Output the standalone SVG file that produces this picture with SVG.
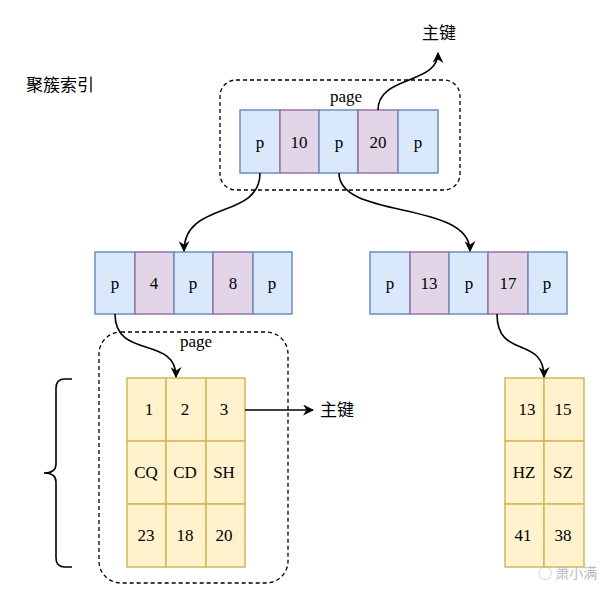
<svg xmlns="http://www.w3.org/2000/svg" width="600" height="600" viewBox="0 0 600 600">
<style>
.b{fill:#dae8fc;stroke:#6c8ebf;stroke-width:1.5}
.m{fill:#e1d5e7;stroke:#9673a6;stroke-width:1.5}
.y{fill:#fff2cc;stroke:#d6b656;stroke-width:1.5}
.d{fill:none;stroke:#000;stroke-width:1.3;stroke-dasharray:4 3}
.t{font-family:"Liberation Serif",serif;font-size:17px;text-anchor:middle;dominant-baseline:central;fill:#000}
.c{font-family:"Liberation Sans","Noto Sans CJK SC",sans-serif;font-size:17px;fill:#000}
.e{fill:none;stroke:#000;stroke-width:1.6}
</style>
<defs><marker id="a" viewBox="0 0 10 10" refX="9" refY="5" markerWidth="11" markerHeight="11" orient="auto" markerUnits="userSpaceOnUse"><path d="M0,0L10,5L0,10L3,5Z" fill="#000"/></marker></defs>
<text class="c" x="26" y="91">聚簇索引</text>
<g id="root">
<rect class="d" x="220" y="80" width="240" height="110" rx="16"/>
<text class="t" x="346" y="96">page</text>
<rect class="b" x="240" y="110" width="40" height="63"/><text class="t" x="260" y="142">p</text>
<rect class="m" x="280" y="110" width="39" height="63"/><text class="t" x="299" y="142">10</text>
<rect class="b" x="319" y="110" width="39" height="63"/><text class="t" x="339" y="142">p</text>
<rect class="m" x="358" y="110" width="40" height="63"/><text class="t" x="378" y="142">20</text>
<rect class="b" x="398" y="110" width="40" height="63"/><text class="t" x="418" y="142">p</text>
<text class="c" x="422" y="39">主键</text>
</g>
<g id="mid-left">
<rect class="b" x="95" y="252" width="40" height="62"/><text class="t" x="115" y="283">p</text>
<rect class="m" x="135" y="252" width="39" height="62"/><text class="t" x="154" y="283">4</text>
<rect class="b" x="174" y="252" width="39" height="62"/><text class="t" x="193" y="283">p</text>
<rect class="m" x="213" y="252" width="40" height="62"/><text class="t" x="233" y="283">8</text>
<rect class="b" x="253" y="252" width="39" height="62"/><text class="t" x="272" y="283">p</text>
</g>
<g id="mid-right">
<rect class="b" x="370" y="252" width="40" height="62"/><text class="t" x="390" y="283">p</text>
<rect class="m" x="410" y="252" width="39" height="62"/><text class="t" x="429" y="283">13</text>
<rect class="b" x="449" y="252" width="39" height="62"/><text class="t" x="469" y="283">p</text>
<rect class="m" x="488" y="252" width="40" height="62"/><text class="t" x="508" y="283">17</text>
<rect class="b" x="528" y="252" width="39" height="62"/><text class="t" x="547" y="283">p</text>
</g>
<g id="leaf-left">
<rect class="d" x="99" y="332" width="189" height="251" rx="22"/>
<text class="t" x="196" y="341">page</text>
<rect class="y" x="127" y="378" width="39" height="63"/><text class="t" x="149" y="409">1</text>
<rect class="y" x="166" y="378" width="40" height="63"/><text class="t" x="185" y="409">2</text>
<rect class="y" x="206" y="378" width="39" height="63"/><text class="t" x="224" y="409">3</text>
<rect class="y" x="127" y="441" width="39" height="63"/><text class="t" x="146" y="472">CQ</text>
<rect class="y" x="166" y="441" width="40" height="63"/><text class="t" x="185" y="472">CD</text>
<rect class="y" x="206" y="441" width="39" height="63"/><text class="t" x="224" y="472">SH</text>
<rect class="y" x="127" y="504" width="39" height="63"/><text class="t" x="146" y="535">23</text>
<rect class="y" x="166" y="504" width="40" height="63"/><text class="t" x="185" y="535">18</text>
<rect class="y" x="206" y="504" width="39" height="63"/><text class="t" x="224" y="535">20</text>
<text class="c" x="320" y="416">主键</text>
<path class="e" d="M72,379 H65 Q56,379 56,388 V464 Q56,473 44,473 Q56,473 56,482 V558 Q56,567 65,567 H72" stroke-width="1.3"/>
</g>
<g id="leaf-right">
<rect class="y" x="505" y="378" width="39" height="63"/><text class="t" x="527" y="409">13</text>
<rect class="y" x="544" y="378" width="40" height="63"/><text class="t" x="563" y="409">15</text>
<rect class="y" x="505" y="441" width="39" height="63"/><text class="t" x="524" y="472">HZ</text>
<rect class="y" x="544" y="441" width="40" height="63"/><text class="t" x="563" y="472">SZ</text>
<rect class="y" x="505" y="504" width="39" height="63"/><text class="t" x="523" y="535">41</text>
<rect class="y" x="544" y="504" width="40" height="63"/><text class="t" x="563" y="535">38</text>
<text x="538" y="578" style="font-family:'Noto Sans CJK SC',sans-serif;font-size:14px;fill:#bbb">◌ 萧小满</text>
</g>
<g id="connectors">
<path class="e" marker-end="url(#a)" d="M378,110 C378,75 438,85 438,53"/>
<path class="e" marker-end="url(#a)" d="M260,173 C260,220 184,200 184,251"/>
<path class="e" marker-end="url(#a)" d="M339,173 C339,220 470,200 470,251"/>
<path class="e" marker-end="url(#a)" d="M115,314 C115,360 176,335 176,377"/>
<path class="e" marker-end="url(#a)" d="M245,410 H313"/>
<path class="e" marker-end="url(#a)" d="M497,314 C497,360 544,335 544,377"/>
</g>
</svg>
